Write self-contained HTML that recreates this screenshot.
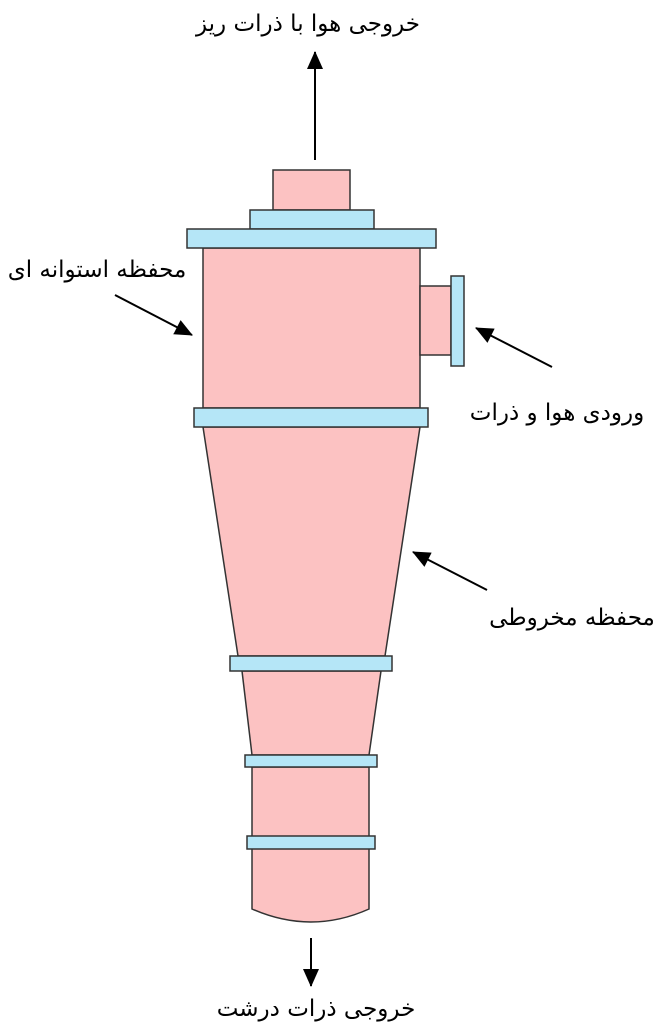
<!DOCTYPE html>
<html><head><meta charset="utf-8"><style>
html,body{margin:0;padding:0;background:#fff}
svg{display:block}
text{font-family:"DejaVu Sans","Liberation Sans",sans-serif;font-size:23px;fill:#000}
</style></head><body>
<svg width="667" height="1030" viewBox="0 0 667 1030" xmlns="http://www.w3.org/2000/svg">
<defs>
<marker id="b" markerWidth="18" markerHeight="18" refX="17" refY="9" orient="auto" markerUnits="userSpaceOnUse" viewBox="0 0 18 18"><path d="M0,1 L18,9 L0,17z" fill="#000"/></marker></defs>
<g stroke="#333" stroke-width="1.5">
<rect x="273" y="170" width="77" height="40" fill="#fcc2c2"/>
<rect x="250" y="210" width="124" height="19" fill="#b5e6f7"/>
<rect x="203" y="248" width="217" height="160" fill="#fcc2c2"/>
<rect x="187" y="229" width="249" height="19" fill="#b5e6f7"/>
<rect x="420" y="286" width="31" height="69" fill="#fcc2c2"/>
<rect x="451" y="276" width="13" height="90" fill="#b5e6f7"/>
<polygon points="203,427 420,427 385,656 238,656" fill="#fcc2c2"/>
<rect x="194" y="408" width="234" height="19" fill="#b5e6f7"/>
<polygon points="242,671 381,671 369,755 252,755" fill="#fcc2c2"/>
<rect x="230" y="656" width="162" height="15" fill="#b5e6f7"/>
<path d="M252,767 L369,767 L369,909 Q311,935 252,909 Z" fill="#fcc2c2"/>
<rect x="245" y="755" width="132" height="12" fill="#b5e6f7"/>
<rect x="247" y="836" width="128" height="13" fill="#b5e6f7"/>
</g>
<g stroke="#000" stroke-width="2">
<line x1="315" y1="160" x2="315" y2="52" marker-end="url(#b)"/>
<line x1="311" y1="938" x2="311" y2="986" marker-end="url(#b)"/>
<line x1="115" y1="295" x2="192" y2="335" marker-end="url(#b)"/>
<line x1="552" y1="367" x2="476" y2="328" marker-end="url(#b)"/>
<line x1="487" y1="590" x2="413" y2="552" marker-end="url(#b)"/>
</g>
<text x="308" y="31" text-anchor="middle" direction="rtl">خروجی هوا با ذرات ریز</text>
<text x="97" y="277" text-anchor="middle" direction="rtl">محفظه استوانه ای</text>
<text x="557" y="420" text-anchor="middle" direction="rtl">ورودی هوا و ذرات</text>
<text x="572" y="625" text-anchor="middle" direction="rtl">محفظه مخروطی</text>
<text x="316" y="1016" text-anchor="middle" direction="rtl">خروجی ذرات درشت</text>
</svg>
</body></html>
